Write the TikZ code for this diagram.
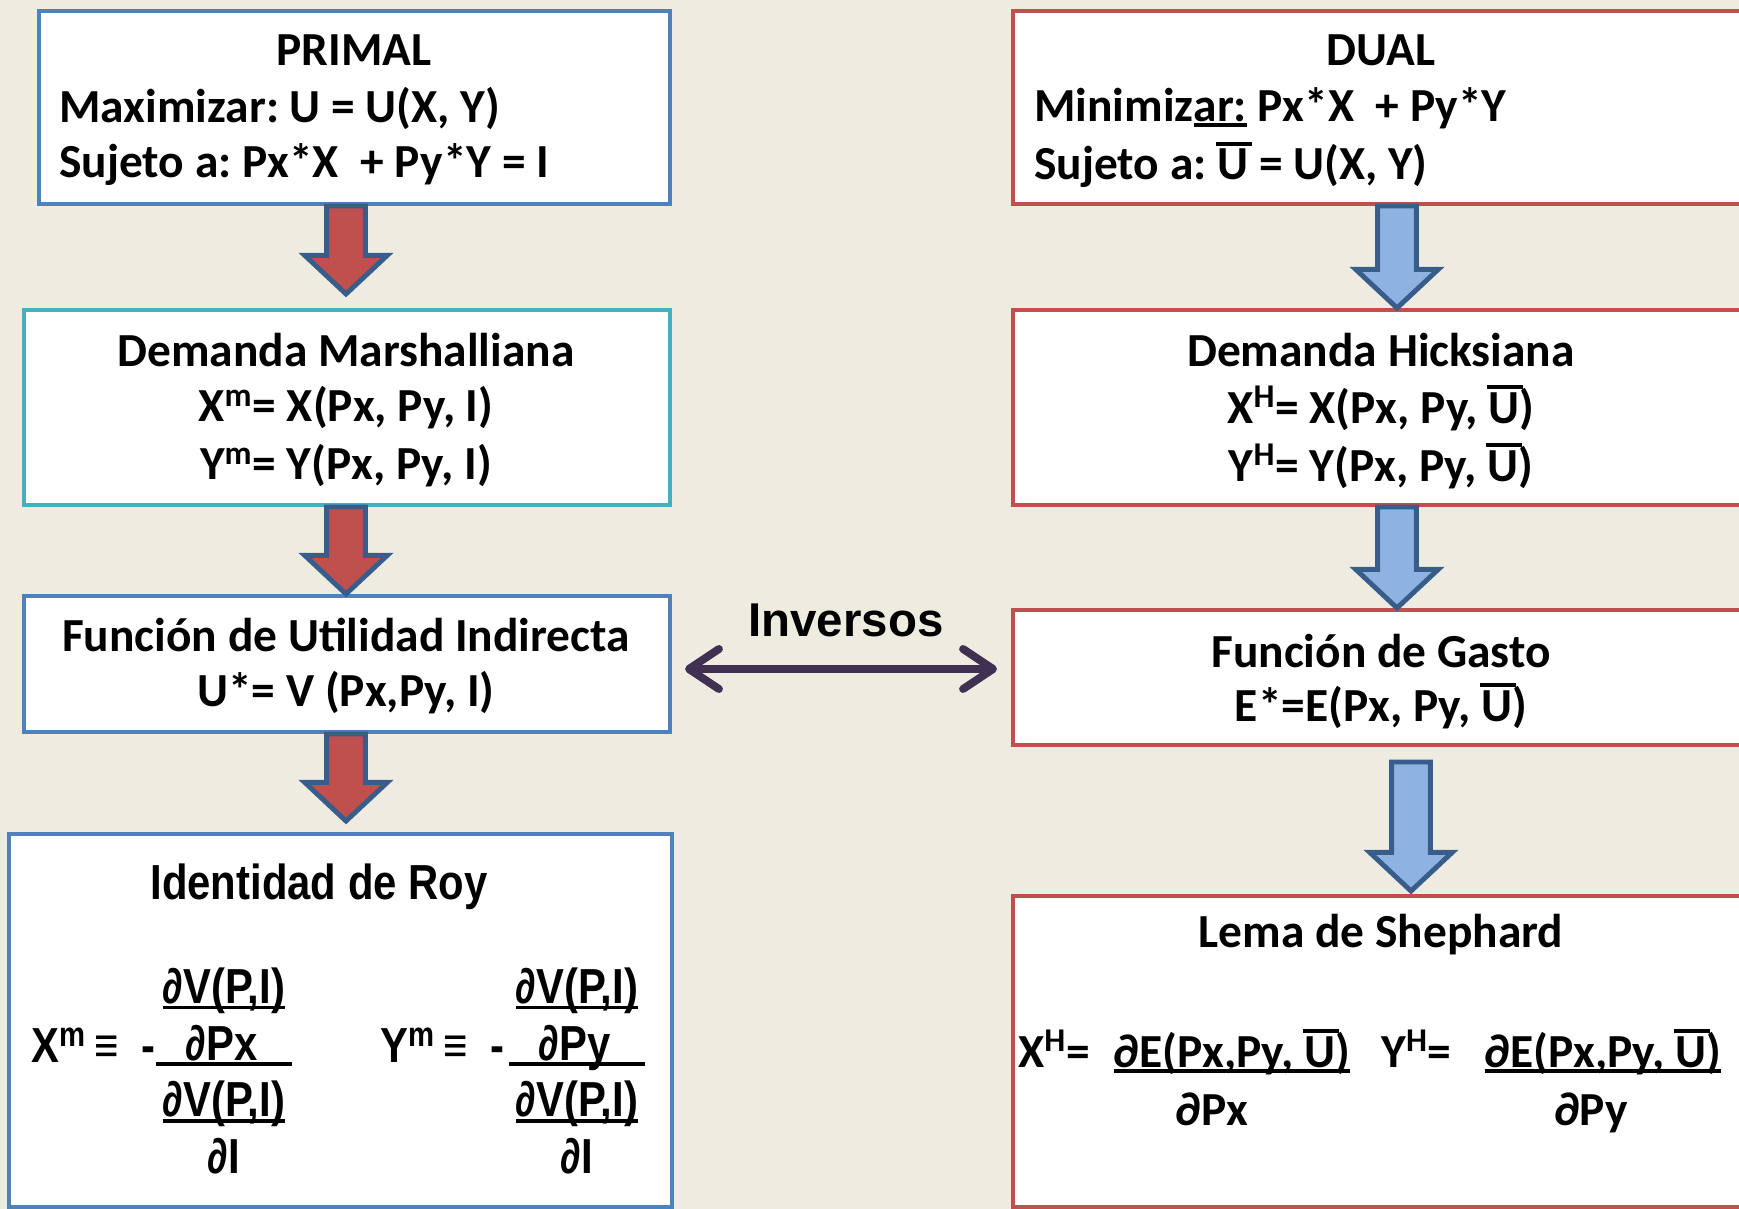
\documentclass[tikz,border=0pt]{standalone}
\usepackage{fontspec}
\setmainfont{Carlito}
\newfontfamily\arialfont{Liberation Sans}
\newfontfamily\narrowfont[FakeStretch=0.85]{Liberation Sans}
\usepackage{tikz}
\usetikzlibrary{calc}
\usetikzlibrary{positioning}
\usetikzlibrary{arrows.meta}
\frenchspacing
\definecolor{bgtan}{HTML}{EEECE1}
\definecolor{accblue}{HTML}{4F81BD}
\definecolor{accaqua}{HTML}{4BACC6}
\definecolor{accred}{HTML}{C0504D}
\definecolor{arrline}{HTML}{385D8A}
\definecolor{arrfill}{HTML}{8DB3E2}
\definecolor{invcol}{HTML}{403152}
\tikzset{
    box/.style = {rectangle, line width=2.3pt, fill=white, inner sep=0pt},
    boxb/.style = {box, draw=accblue},
    boxc/.style = {box, draw=accaqua},
    boxr/.style = {box, draw=accred},
    txt/.style = {inner sep=0pt, font=\fontsize{27}{32}\selectfont\bfseries},
    roytxt/.style = {inner sep=0pt, align=center, font=\fontsize{28}{32.3}\selectfont\narrowfont\bfseries},
    blockr/.style = {line width=2.8pt, draw=arrline, fill=accred, line join=miter},
    blockb/.style = {line width=2.8pt, draw=arrline, fill=arrfill, line join=miter},
    edgeinv/.style = {{Straight Barb[length=0.6cm,width=0.8cm,round]}-{Straight Barb[length=0.6cm,width=0.8cm,round]},
                      line width=4.5pt, draw=invcol, line cap=round}
}
\newcommand{\ulbox}[1]{\setbox0\hbox{#1}\rlap{\rule[-0.12em]{\wd0}{0.075em}}\box0\relax}
\newcommand{\Ub}{\setbox2\hbox{U}\rlap{\hspace{-0.03em}\raisebox{0.72em}{\rule{1.15\wd2}{0.075em}}}U}
\newcommand{\arrsw}{11pt}
\newcommand{\arrhw}{23.5pt}
\newcommand{\arrhl}{22pt}
\newcommand{\blockarr}[3]{%
  \draw[#1] let \p1=#2, \p2=#3 in
    (\x1-\arrsw,\y1) -- (\x1-\arrsw,\y2+\arrhl) -- (\x1-\arrhw,\y2+\arrhl)
    -- (\x1,\y2) -- (\x1+\arrhw,\y2+\arrhl) -- (\x1+\arrsw,\y2+\arrhl)
    -- (\x1+\arrsw,\y1) -- cycle;}

\begin{document}
\begin{tikzpicture}[x=0.02cm,y=-0.02cm]
\useasboundingbox (0,0) rectangle (1739,1209);
\fill[bgtan] (0,0) rectangle (1739,1209);
\clip (0,0) rectangle (1739,1209);
% boxes
\node[boxb, minimum width=12.62cm, minimum height=3.86cm] at (354.5,107.5) (primal) {};
\node[boxc, minimum width=12.92cm, minimum height=3.9cm] at (347,407.5) (marsh) {};
\node[boxb, minimum width=12.92cm, minimum height=2.72cm] at (347,664) (indir) {};
\node[boxb, minimum width=13.26cm, minimum height=7.46cm] at (340.5,1020.5) (roy) {};
\node[boxr, minimum width=15.74cm, minimum height=3.86cm] at (1406.5,107.5) (dual) {};
\node[boxr, minimum width=15.74cm, minimum height=3.9cm] at (1406.5,407.5) (hicks) {};
\node[boxr, minimum width=15.74cm, minimum height=2.7cm] at (1406.5,677.5) (gasto) {};
\node[boxr, minimum width=15.74cm, minimum height=6.22cm] at (1406.5,1051.5) (sheph) {};
%
\coordinate (colL) at (346,0);
\coordinate (colR) at (1397,0);
\coordinate (colRb) at (1411,0);
\coordinate (invL) at (685,669);
\coordinate (invR) at (997,669);
% block arrows
\blockarr{blockr}{(primal.south -| colL)}{($(marsh.north -| colL)+(0,-14)$)}
\blockarr{blockr}{(marsh.south -| colL)}{(indir.north -| colL)}
\blockarr{blockr}{(indir.south -| colL)}{($(roy.north -| colL)+(0,-11)$)}
\blockarr{blockb}{(dual.south -| colR)}{(hicks.north -| colR)}
\blockarr{blockb}{(hicks.south -| colR)}{(gasto.north -| colR)}
\blockarr{blockb}{($(gasto.south -| colRb)+(0,15)$)}{($(sheph.north -| colRb)+(0,-3)$)}
\draw[edgeinv] (invL) -- (invR);
\node[inner sep=0pt, font=\fontsize{27}{32}\selectfont\arialfont\bfseries] at (846,620) (inv) {Inversos};
% left column
\node[txt] at (354,50) (tprimal) {PRIMAL};
\node[txt, anchor=west] at (59,108) (tmax) {Maximizar: U = U(X, Y)};
\node[txt, anchor=west] at (59,165) (tsuj) {Sujeto a: Px*X\ \ + Py*Y = I};
\node[txt] at (346,350) (tmarsh) {Demanda Marshalliana};
\node[txt] at (346,408) (txm) {X\textsuperscript{m}= X(Px, Py, I)};
\node[txt] at (346,466) (tym) {Y\textsuperscript{m}= Y(Px, Py, I)};
\node[txt] at (346,635) (tindir) {Función de Utilidad Indirecta};
\node[txt] at (346,693) (tv) {U*= V (Px,Py, I)};
\node[roytxt] at (319,887) (troy) {Identidad de Roy};
\node[roytxt, anchor=base west] at (31,1062) (rxm) {X\textsuperscript{m}\,≡\ \ -};
\node[roytxt] at (224,1071) (rxfrac) {\ulbox{∂V(P,I)}\\\ulbox{\hspace{0.6em}∂Px\hspace{0.7em}}\\\ulbox{∂V(P,I)}\\∂I};
\node[roytxt, anchor=base west] at (380,1062) (rym) {Y\textsuperscript{m}\,≡\ \ -};
\node[roytxt] at (577,1071) (ryfrac) {\ulbox{∂V(P,I)}\\\ulbox{\hspace{0.6em}∂Py\hspace{0.7em}}\\\ulbox{∂V(P,I)}\\∂I};
% right column
\node[txt] at (1381,50) (tdual) {DUAL};
\node[txt, anchor=west] at (1034,108) (tmin) {Minimiz\ulbox{ar:} Px*X\ \ + Py*Y};
\node[txt, anchor=west] at (1034,165) (tsujd) {Sujeto a: \Ub\ = U(X, Y)};
\node[txt] at (1381,350) (thicks) {Demanda Hicksiana};
\node[txt] at (1381,408) (txh) {X\textsuperscript{H}= X(Px, Py, \Ub)};
\node[txt] at (1381,466) (tyh) {Y\textsuperscript{H}= Y(Px, Py, \Ub)};
\node[txt] at (1381,651) (tgasto) {Función de Gasto};
\node[txt] at (1381,706) (te) {E*=E(Px, Py, \Ub)};
\node[txt] at (1381,935) (tsheph) {Lema de Shephard};
\node[txt, anchor=base west] at (1018,1067) (sxh) {X\textsuperscript{H}=};
\node[txt, anchor=base] at (1232,1067) (sxnum) {\ulbox{∂E(Px,Py, \Ub)}};
\node[txt, anchor=base] at (1212,1125) (sxden) {∂Px};
\node[txt, anchor=base west] at (1381,1067) (syh) {Y\textsuperscript{H}=};
\node[txt, anchor=base] at (1603,1067) (synum) {\ulbox{∂E(Px,Py, \Ub)}};
\node[txt, anchor=base] at (1591,1125) (syden) {∂Py};
\end{tikzpicture}
\end{document}
